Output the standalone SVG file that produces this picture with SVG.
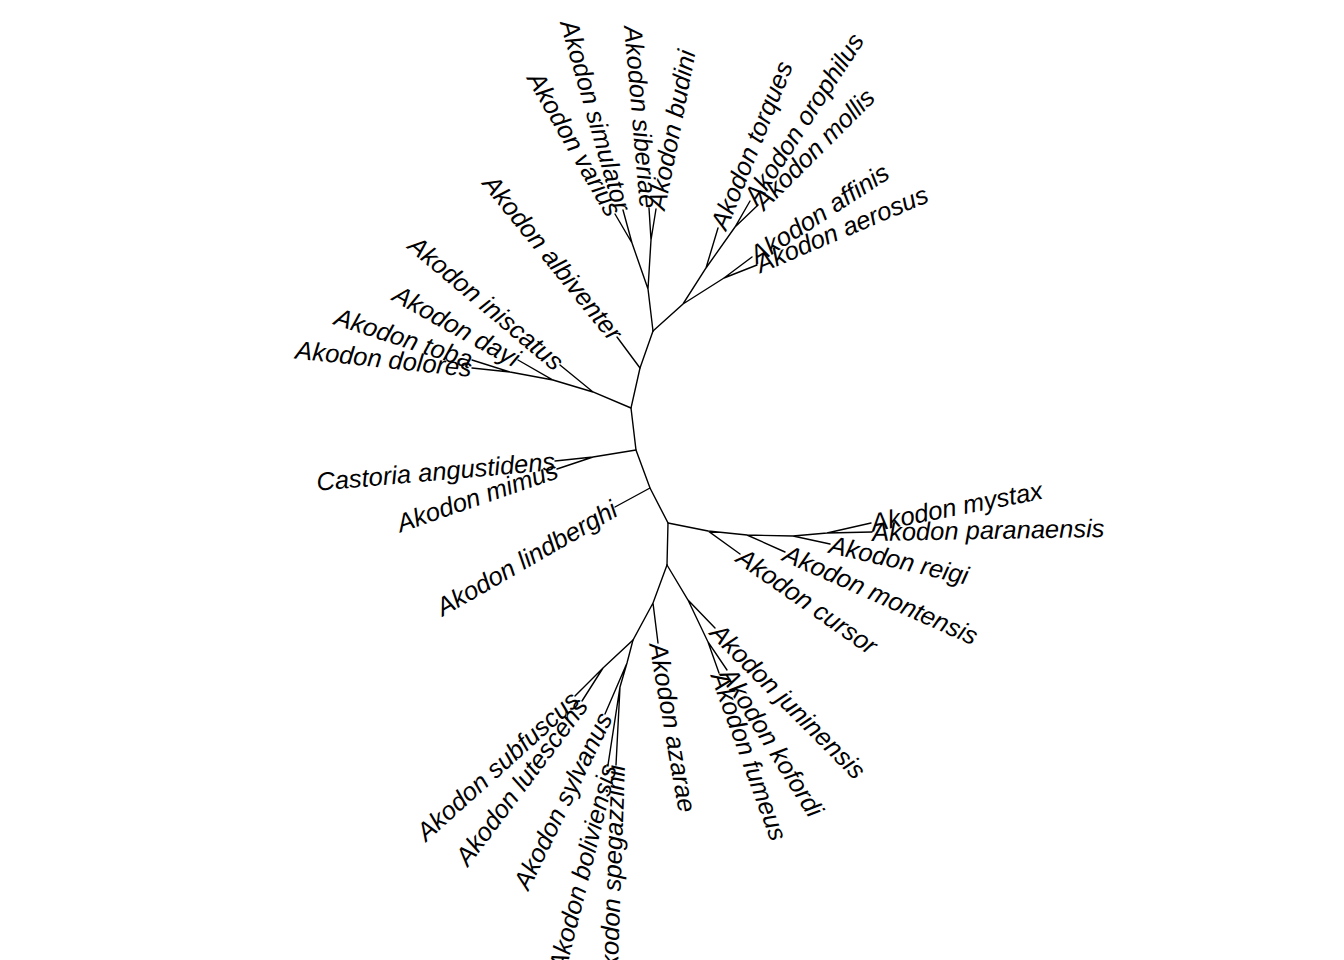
<svg xmlns="http://www.w3.org/2000/svg" width="1344" height="960" viewBox="0 0 1344 960">
<style>
.e{stroke:#000;stroke-width:1.4;fill:none;stroke-linecap:round}
text{font-family:"Liberation Sans",Arial,sans-serif;font-style:italic;font-size:25.5px;fill:#000;dominant-baseline:central}
.s{text-anchor:start}
.n{text-anchor:end}
</style>
<rect width="1344" height="960" fill="#fff"/>
<g id="connectors" class="e">
<path d="M640,368L653,331M640,368L631,408L636,450L650,488L668,523L667,565"/>
<path d="M653,331L648,289L632,243M632,243L615,214M632,243L623,210M648,289L651,240L649,208M651,240L656,209"/>
<path d="M653,331L683,304L706,268L718,228M706,268L735,227L750,201M735,227L758,205M683,304L724,278L752,257M724,278L757,265"/>
<path d="M640,368L617,337"/>
<path d="M631,408L593,392L560,365M593,392L553,380L518,360M553,380L510,372L472,360M510,372L472,368"/>
<path d="M636,450L593,457L555,461M593,457L557,469"/>
<path d="M650,488L615,507"/>
<path d="M668,523L708,531L740,554M708,531L747,535L785,552M747,535L793,536L830,544M793,536L827,533L871,523M827,533L872,532"/>
<path d="M667,565L653,603L658,643M653,603L633,640L603,668L575,696M603,668L582,701"/>
<path d="M633,640L627,663L605,714M627,663L620,687L608,765M620,687L616,765"/>
<path d="M667,565L688,600L715,628M688,600L708,642L727,670M708,642L719,673"/>
</g>
<g id="t-varius"><text class="n" transform="translate(615,214) rotate(60)">Akodon varius</text></g>
<g id="t-simulator"><text class="n" transform="translate(623,210) rotate(74)">Akodon simulator</text></g>
<g id="t-siberiae"><text class="n" transform="translate(649,208) rotate(85)">Akodon siberiae</text></g>
<g id="t-budini"><text class="s" transform="translate(656,209) rotate(-79)">Akodon budini</text></g>
<g id="t-torques"><text class="s" transform="translate(718,228) rotate(-68)">Akodon torques</text></g>
<g id="t-orophilus"><text class="s" transform="translate(750,201) rotate(-57)">Akodon orophilus</text></g>
<g id="t-mollis"><text class="s" transform="translate(758,205) rotate(-45)">Akodon mollis</text></g>
<g id="t-affinis"><text class="s" transform="translate(752,257) rotate(-33)">Akodon affinis</text></g>
<g id="t-aerosus"><text class="s" transform="translate(757,265) rotate(-23)">Akodon aerosus</text></g>
<g id="t-albiventer"><text class="n" transform="translate(617,337) rotate(51)">Akodon albiventer</text></g>
<g id="t-iniscatus"><text class="n" transform="translate(560,365) rotate(40)">Akodon iniscatus</text></g>
<g id="t-dayi"><text class="n" transform="translate(518,360) rotate(29)">Akodon dayi</text></g>
<g id="t-toba"><text class="n" transform="translate(472,360) rotate(18)">Akodon toba</text></g>
<g id="t-dolores"><text class="n" transform="translate(472,368) rotate(6)">Akodon dolores</text></g>
<g id="t-castoria"><text class="n" transform="translate(555,461) rotate(-5)">Castoria angustidens</text></g>
<g id="t-mimus"><text class="n" transform="translate(557,469) rotate(-19)">Akodon mimus</text></g>
<g id="t-lindberghi"><text class="n" transform="translate(615,507) rotate(-30)">Akodon lindberghi</text></g>
<g id="t-mystax"><text class="s" transform="translate(871,523) rotate(-11)">Akodon mystax</text></g>
<g id="t-paranaensis"><text class="s" transform="translate(872,532) rotate(-1)">Akodon paranaensis</text></g>
<g id="t-reigi"><text class="s" transform="translate(830,544) rotate(13)">Akodon reigi</text></g>
<g id="t-montensis"><text class="s" transform="translate(785,552) rotate(24)">Akodon montensis</text></g>
<g id="t-cursor"><text class="s" transform="translate(740,554) rotate(35)">Akodon cursor</text></g>
<g id="t-juninensis"><text class="s" transform="translate(715,628) rotate(45)">Akodon juninensis</text></g>
<g id="t-kofordi"><text class="s" transform="translate(727,670) rotate(58)">Akodon kofordi</text></g>
<g id="t-fumeus"><text class="s" transform="translate(719,673) rotate(70)">Akodon fumeus</text></g>
<g id="t-azarae"><text class="s" transform="translate(658,643) rotate(80)">Akodon azarae</text></g>
<g id="t-spegazzinii"><text class="n" transform="translate(616,765) rotate(-88)">Akodon spegazzinii</text></g>
<g id="t-boliviensis"><text class="n" transform="translate(608,765) rotate(-76)">Akodon boliviensis</text></g>
<g id="t-sylvanus"><text class="n" transform="translate(605,714) rotate(-64)">Akodon sylvanus</text></g>
<g id="t-lutescens"><text class="n" transform="translate(582,701) rotate(-53)">Akodon lutescens</text></g>
<g id="t-subfuscus"><text class="n" transform="translate(575,696) rotate(-42)">Akodon subfuscus</text></g>
</svg>
